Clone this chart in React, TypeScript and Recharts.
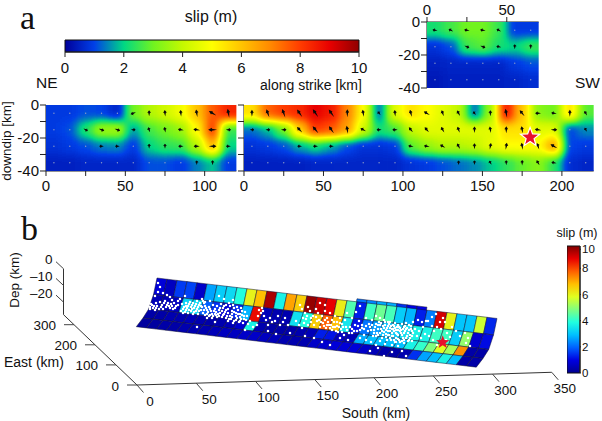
import React from 'react';
import { ScatterChart, Scatter, XAxis, YAxis, ReferenceArea, ReferenceLine } from 'recharts';

const FONT = '"Liberation Sans", Arial, sans-serif';
const AXIS = '#222';

// colour stops at slip = 0, 1, ... 10
const topColors = ['#00009a', '#0040e8', '#00d884', '#70f420', '#c4f800', '#ffff00', '#ffc400', '#ff8800', '#ff3c00', '#e80000', '#900000'];
const jetColors = ['#00008f', '#0000e0', '#0060ff', '#00c0ff', '#20ffe0', '#80ff80', '#e0ff20', '#ffc000', '#ff6000', '#e80000', '#800000'];

// slip (m) per 10 km cell, rows at 5, 15, 25, 35 km depth
const depths = [-5, -15, -25, -35];

const slipNE = [
  [0.9, 0.9, 1.1, 1.0, 0.6, 3.0, 3.8, 4.2, 4.8, 6.0, 7.6, 8.4],
  [0.9, 1.1, 2.3, 3.5, 3.6, 1.6, 2.6, 3.0, 3.5, 5.0, 8.0, 2.5],
  [0.8, 0.9, 1.1, 1.4, 1.5, 0.9, 2.0, 2.4, 2.5, 3.8, 6.2, 2.0],
  [0.5, 0.5, 0.6, 0.6, 0.6, 0.6, 1.1, 1.1, 0.9, 1.4, 1.9, 0.9],
];
const slipSW = [
  [5.5, 7.5, 8.0, 8.3, 9.0, 8.6, 7.0, 5.0, 1.3, 4.5, 5.5, 5.0, 4.5, 4.0, 1.3, 3.5, 8.5, 6.0, 3.3, 3.0, 5.5, 2.8],
  [1.3, 1.8, 3.0, 5.8, 8.0, 7.6, 6.5, 4.2, 2.2, 2.6, 4.0, 4.5, 4.5, 4.5, 4.5, 4.5, 5.5, 5.5, 4.5, 4.5, 1.0, 1.5],
  [0.8, 0.9, 1.1, 1.7, 2.1, 1.7, 1.1, 0.8, 0.8, 0.9, 2.8, 3.4, 3.8, 3.8, 4.0, 4.6, 5.0, 5.0, 5.0, 6.5, 1.0, 0.9],
  [0.5, 0.5, 0.5, 0.5, 0.6, 0.6, 0.6, 0.6, 0.6, 0.6, 0.8, 0.9, 1.1, 1.3, 1.5, 1.9, 2.4, 2.9, 3.3, 2.4, 0.7, 0.6],
];
const slipInset = [
  [2.2, 2.6, 3.0, 3.0, 2.5, 0.9, 0.9],
  [0.8, 1.1, 2.5, 2.8, 2.2, 2.0, 2.5],
  [0.5, 0.6, 0.6, 0.6, 0.6, 0.9, 1.1],
  [0.4, 0.5, 0.5, 0.5, 0.5, 0.6, 0.7],
];

// rake of each arrow, degrees anticlockwise from +x on the page
const rakeNE = [
  [90, 90, 80, 90, 90, 200, 90, 95, 95, 100, 150, 100],
  [0, 0, -30, -20, -20, 0, 110, 100, 170, 170, 180, 0],
  [180, 180, 180, 180, 180, 180, 90, 90, 180, 180, 0, 180],
  [90, 90, 90, 90, 90, 90, 90, 90, 90, 90, 90, 90],
];
const rakeSW = [
  [90, 110, 110, 125, 125, 125, 90, 100, 130, 95, 105, 150, 110, 120, 130, 90, 100, 130, 180, 170, 90, 120],
  [0, 0, 0, 135, 130, 125, 100, 150, 180, 180, 130, 130, 120, 110, 90, 100, 90, 100, 170, 0, 100, 120],
  [180, 180, 180, 180, 180, 180, 180, 180, 180, 180, 170, 170, 150, 120, 90, 80, 80, 100, 110, 150, 90, 90],
  [90, 90, 90, 90, 90, 90, 90, 90, 90, 90, 90, 90, 90, 90, 90, 120, 90, 90, 120, 170, 90, 90],
];
const rakeInset = [
  [170, 150, 170, 170, 150, 90, 90],
  [90, 100, -20, -20, 170, 90, 90],
  [90, 90, 90, 90, 90, 90, 90],
  [90, 90, 90, 90, 90, 90, 90],
];
const hypocentre = [{ x: 180, z: -19.6 }];

const neTicks = [0, 25, 50, 75, 100];
const swTicks = [0, 25, 50, 75, 100, 125, 150, 175, 200];
const insetTicks = [0, 25, 50];
const depthTicks = [0, -10, -20, -30, -40];

// 3D fault, 34 columns along strike and 4 rows downdip
const fault3d = [
  [0.9, 0.6, 1.6, 1.7, 0.7, 2.7, 3.2, 3.4, 4.0, 6.2, 7.0, 9.6, 3.8, 7.3, 6.8, 9.8, 9.3, 9.0, 6.3, 4.5, 1.3, 4.3, 4.8, 4.4, 3.2, 2.9, 1.3, 2.3, 9.2, 6.2, 3.1, 3.1, 5.8, 1.4],
  [0.5, 0.5, 0.6, 3.3, 3.4, 2.0, 1.5, 0.8, 1.4, 2.9, 8.9, 0.5, 0.4, 0.4, 3.5, 4.0, 6.8, 8.0, 7.0, 3.6, 1.2, 2.2, 2.6, 3.0, 3.2, 3.5, 3.8, 3.8, 4.3, 4.3, 3.2, 5.2, 0.8, 1.1],
  [0.3, 0.3, 0.4, 0.4, 0.5, 0.4, 0.3, 0.4, 0.5, 0.8, 3.8, 0.4, 0.3, 0.3, 0.3, 0.4, 0.5, 1.3, 1.2, 0.6, 0.5, 2.8, 3.0, 3.0, 3.0, 3.0, 3.8, 4.2, 5.0, 6.0, 5.4, 7.5, 0.3, 0.3],
  [0.2, 0.2, 0.3, 0.3, 0.4, 0.4, 0.4, 0.5, 0.6, 0.6, 0.7, 0.7, 0.6, 0.5, 0.4, 0.4, 0.4, 0.7, 0.8, 0.9, 0.9, 0.9, 0.7, 0.5, 0.3, 0.3, 0.4, 1.5, 2.7, 3.0, 3.8, 3.0, 0.3, 0.3],
];
const fault3dStrip = [2.2, 2.4, 2.8, 2.8, 1.5, 1.0, 1.0];
const southTicks = [0, 50, 100, 150, 200, 250, 300, 350];
const eastTicks = [0, 100, 200, 300];
const depTicks = [0, -10, -20];
// the printed 10 sits just inside the top of the bar
const slipBarTicks = [0, 2, 4, 6, 8, 9.45];
const slipBarTop = 9.7;
const topBarTicks = [0, 2, 4, 6, 8, 10];
const barEnds = [{ x: 0, y: 0 }, { x: 1, y: 1 }];

// aftershocks, page px
const aftershocks = [
  [158, 283], [160, 287], [158, 292], [155, 296], [163, 293], [167, 295], [170, 297], [172, 300], [152, 305], [150, 307],
  [153, 308], [156, 303], [157, 306], [160, 302], [162, 305], [165, 301], [168, 303], [171, 304], [174, 303], [176, 306],
  [150, 309], [155, 310], [159, 309], [163, 309], [166, 307], [170, 308], [173, 309], [178, 301], [180, 299], [185, 296],
  [182, 304], [184, 307], [186, 303], [188, 306], [190, 302], [192, 305], [194, 308], [196, 304], [198, 307], [200, 303],
  [181, 311], [183, 313], [186, 310], [188, 313], [191, 311], [193, 314], [196, 311], [198, 314], [201, 310], [203, 313],
  [205, 306], [207, 310], [209, 307], [211, 311], [213, 305], [215, 309], [217, 306], [219, 310], [221, 304], [223, 308],
  [205, 315], [207, 318], [210, 315], [212, 318], [215, 314], [217, 317], [220, 313], [222, 317], [225, 312], [227, 316],
  [226, 305], [228, 309], [230, 306], [232, 311], [234, 308], [236, 313], [238, 310], [240, 314], [242, 311], [244, 316],
  [229, 319], [232, 317], [234, 321], [237, 318], [239, 322], [241, 319], [243, 323], [246, 320], [248, 324], [250, 321],
  [197, 327], [215, 322], [245, 330], [219, 296], [224, 299], [233, 300], [210, 301], [202, 299], [253, 327], [257, 325],
  [262, 308], [261, 313], [258, 316], [264, 316], [263, 311], [259, 310],
  [268, 325], [270, 318], [275, 321], [280, 325], [285, 318], [272, 322], [266, 320], [283, 322], [278, 316], [288, 325],
  [276, 334], [268, 331], [290, 333], [296, 321], [299, 325], [302, 328], [304, 323], [306, 319], [308, 325], [311, 322],
  [300, 305], [302, 309], [305, 313], [308, 307], [310, 311], [313, 316], [316, 309], [318, 313], [320, 303], [325, 305],
  [322, 316], [325, 311], [327, 318], [330, 313], [332, 320], [335, 316], [337, 322], [340, 318], [342, 324], [345, 320],
  [314, 325], [317, 321], [320, 327], [323, 323], [326, 328], [329, 325], [332, 330], [335, 327], [338, 332], [341, 329],
  [344, 335], [347, 330], [350, 327], [352, 333], [355, 325], [357, 331], [359, 321], [362, 328], [364, 335], [366, 318],
  [340, 338], [348, 340], [305, 336], [314, 338], [322, 342], [330, 345], [356, 312], [360, 306], [352, 318], [347, 313],
  [369, 324], [371, 330], [373, 336], [375, 327], [377, 333], [379, 322], [381, 329], [383, 335], [385, 325], [387, 340],
  [372, 320], [376, 316], [380, 318], [384, 320], [388, 322], [390, 328], [392, 333], [394, 326], [396, 338], [398, 330],
  [389, 335], [391, 340], [393, 336], [395, 342], [397, 334], [399, 340], [401, 333], [403, 338], [405, 331], [407, 336],
  [386, 330], [388, 326], [390, 322], [393, 329], [395, 323], [398, 325], [400, 328], [402, 324], [404, 327], [406, 323],
  [385, 344], [380, 341], [376, 345], [371, 342], [366, 340], [360, 338], [392, 345], [398, 346], [404, 343], [409, 340],
  [409, 330], [411, 326], [413, 333], [415, 329], [417, 336], [419, 331], [421, 338], [423, 327], [425, 334], [412, 341],
  [413, 322], [418, 320], [422, 322], [426, 321], [370, 351], [384, 356], [392, 352], [402, 351], [406, 356], [378, 348],
  [432, 326], [434, 331], [437, 327], [440, 322], [443, 318], [445, 322], [441, 329], [447, 333], [450, 337], [446, 340],
  [429, 336], [433, 340], [437, 345], [468, 338], [466, 343], [470, 346], [465, 333], [452, 327], [456, 331], [460, 336],
  [428, 321], [436, 314], [432, 317],
  // thickest parts of the band
  [183, 309], [185, 312], [187, 308], [189, 310], [192, 309], [194, 312], [197, 309], [199, 311], [202, 307], [204, 310],
  [204, 303], [206, 308], [208, 312], [210, 309], [212, 314], [214, 311], [216, 312], [218, 314], [220, 308], [222, 311],
  [224, 314], [226, 310], [228, 313], [230, 316], [232, 314], [234, 312], [236, 316], [238, 314], [240, 317], [242, 315],
  [224, 306], [229, 303], [233, 305], [237, 307], [241, 308], [245, 312], [247, 316], [244, 319], [240, 321], [236, 320],
  [207, 314], [209, 316], [213, 316], [216, 315], [219, 316], [223, 315], [226, 318], [228, 321], [231, 319], [233, 323],
  [186, 306], [189, 304], [191, 307], [193, 303], [195, 306], [197, 301], [199, 305], [201, 306], [203, 301], [205, 302],
  [164, 303], [167, 305], [169, 306], [172, 306], [154, 306], [156, 308], [151, 304], [161, 307], [175, 308], [178, 305],
  [370, 327], [372, 325], [374, 330], [376, 324], [378, 329], [380, 325], [382, 331], [384, 328], [386, 334], [388, 331],
  [374, 333], [376, 336], [378, 335], [380, 333], [382, 338], [384, 332], [386, 337], [388, 335], [390, 338], [392, 336],
  [378, 325], [381, 323], [383, 326], [385, 322], [387, 328], [389, 324], [391, 326], [393, 325], [395, 328], [397, 327],
  [394, 331], [396, 333], [398, 335], [400, 331], [402, 335], [404, 333], [406, 329], [408, 333], [410, 335], [412, 331],
  [390, 331], [392, 329], [396, 330], [399, 327], [401, 330], [403, 329], [405, 326], [407, 328], [409, 325], [411, 329],
  [394, 340], [396, 342], [398, 339], [400, 342], [402, 341], [404, 340], [406, 338], [408, 341], [410, 338], [412, 336],
  [358, 326], [360, 330], [362, 325], [364, 329], [366, 326], [368, 331], [352, 329], [354, 331], [349, 333], [346, 327],
  [325, 320], [328, 322], [331, 325], [334, 322], [337, 326], [340, 323], [343, 327], [303, 318], [307, 316], [311, 318],
  [316, 317], [319, 320], [321, 322], [324, 326], [327, 325], [330, 328], [333, 327], [336, 331], [339, 327], [342, 332],
].map(([x, y]) => ({ x, y }));

type Stop = string;

function hexToRgb(hex: string) {
  return [1, 3, 5].map((i) => parseInt(hex.slice(i, i + 2), 16));
}

function colorAt(stops: Stop[], slip: number) {
  const t = Math.min(Math.max(slip, 0), 10);
  const i = Math.min(Math.floor(t), 9);
  const a = hexToRgb(stops[i]);
  const b = hexToRgb(stops[i + 1]);
  const rgb = a.map((v, k) => Math.round(v + (b[k] - v) * (t - i)));
  return `rgb(${rgb.join(',')})`;
}

function channelTable(k: number) {
  return topColors.map((c) => (hexToRgb(c)[k] / 255).toFixed(3)).join(' ');
}

function buildCells(slip: number[][], rake: number[][]) {
  return slip.flatMap((row, r) =>
    row.map((s, c) => ({ x: c * 10 + 5, z: depths[r], slip: s, rake: rake[r][c] }))
  );
}

function starPoints(cx: number, cy: number, outer: number) {
  const pts: string[] = [];
  for (let i = 0; i < 10; i++) {
    const rad = i % 2 === 0 ? outer : outer * 0.42;
    const a = (Math.PI / 5) * i - Math.PI / 2;
    pts.push(`${cx + rad * Math.cos(a)},${cy + rad * Math.sin(a)}`);
  }
  return pts.join(' ');
}

function Arrow(props: any) {
  const { cx, cy, payload } = props;
  if (payload.slip < 1.3) {
    return <circle cx={cx} cy={cy} r={0.7} fill="#8a9ac8" />;
  }
  const len = 3 + payload.slip * 0.55;
  return (
    <g transform={`translate(${cx},${cy}) rotate(${-payload.rake})`}>
      <path
        d={`M${-len * 0.6},0 L${len * 0.1},-0.9 L${len * 0.1},-1.9 L${len * 0.6},0 L${len * 0.1},1.9 L${len * 0.1},0.9 Z`}
        fill="#0a0a0a"
      />
    </g>
  );
}

interface SlipPanelProps {
  id: string;
  plotLeft: number;
  plotTop: number;
  plotWidth: number;
  plotHeight: number;
  xMax: number;
  slip: number[][];
  rake: number[][];
  xTicks: number[];
  xMajor: number;
  showDepthLabels?: boolean;
  topAxis?: boolean;
  star?: boolean;
}

function SlipPanel({ id, plotLeft, plotTop, plotWidth, plotHeight, xMax, slip, rake, xTicks, xMajor, showDepthLabels, topAxis, star }: SlipPanelProps) {
  const cells = buildCells(slip, rake);
  const marginLeft = 40;
  const marginTop = topAxis ? 22 : 10;
  const axisRoom = 30;
  const cellW = (plotWidth / xMax) * 10;
  const cellH = plotHeight / 4;
  const tickFont = { fontFamily: FONT, fontSize: 15, fill: '#111' };

  const HeatCell = (props: any) => {
    const { cx, cy, payload } = props;
    const pad = 30;
    const x0 = payload.x < 10 ? cx - cellW / 2 - pad : cx - cellW / 2;
    const x1 = payload.x > xMax - 10 ? cx + cellW / 2 + pad : cx + cellW / 2 + 0.5;
    const y0 = payload.z === depths[0] ? cy - cellH / 2 - pad : cy - cellH / 2;
    const y1 = payload.z === depths[3] ? cy + cellH / 2 + pad : cy + cellH / 2 + 0.5;
    const g = Math.round((payload.slip / 10) * 255);
    return <rect x={x0} y={y0} width={x1 - x0} height={y1 - y0} fill={`rgb(${g},${g},${g})`} />;
  };

  return (
    <div style={{ position: 'absolute', left: plotLeft - marginLeft, top: plotTop - marginTop }}>
      <style>{`.heat-${id}{filter:url(#slipField);clip-path:url(#clip-${id});}`}</style>
      <ScatterChart
        width={marginLeft + plotWidth + 6}
        height={marginTop + plotHeight + (topAxis ? 10 : axisRoom)}
        margin={{ top: topAxis ? 0 : marginTop, right: 6, bottom: topAxis ? 10 : 0, left: 0 }}
      >
        <defs>
          <clipPath id={`clip-${id}`}>
            <rect x={marginLeft} y={marginTop} width={plotWidth} height={plotHeight} />
          </clipPath>
        </defs>
        <XAxis
          type="number"
          dataKey="x"
          orientation={topAxis ? 'top' : 'bottom'}
          domain={[0, xMax]}
          ticks={xTicks}
          interval={0}
          allowDataOverflow
          height={topAxis ? marginTop : axisRoom}
          tickSize={5}
          tickMargin={topAxis ? 2 : 4}
          tick={tickFont}
          stroke={AXIS}
          tickFormatter={(v: number) => (v % xMajor === 0 ? String(v) : '')}
        />
        <YAxis
          type="number"
          dataKey="z"
          domain={[-40, 0]}
          ticks={depthTicks}
          interval={0}
          allowDataOverflow
          width={marginLeft}
          tickSize={6}
          tickMargin={1}
          tick={tickFont}
          stroke={AXIS}
          tickFormatter={(v: number) => (showDepthLabels && v % 20 === 0 ? String(v) : '')}
        />
        <Scatter data={cells} className={`heat-${id}`} shape={HeatCell} isAnimationActive={false} />
        <Scatter data={cells} shape={Arrow} isAnimationActive={false} />
        {star && (
          <Scatter
            data={hypocentre}
            isAnimationActive={false}
            shape={(p: any) => (
              <polygon points={starPoints(p.cx, p.cy, 10)} fill="#e8102c" stroke="#fff" strokeWidth={1.2} />
            )}
          />
        )}
      </ScatterChart>
    </div>
  );
}

function TopColorBar() {
  const ends = barEnds.map((d) => ({ x: d.x * 10, y: d.y }));
  return (
    <div style={{ position: 'absolute', left: 50, top: 39 }}>
      <ScatterChart width={324} height={46} margin={{ top: 1, right: 15, bottom: 0, left: 15 }}>
        <XAxis
          type="number"
          dataKey="x"
          domain={[0, 10]}
          ticks={topBarTicks}
          interval={0}
          height={33}
          tickSize={5}
          tickMargin={5}
          tick={{ fontFamily: FONT, fontSize: 15, fill: '#111' }}
          stroke={AXIS}
        />
        <YAxis type="number" dataKey="y" domain={[0, 1]} hide />
        <Scatter data={ends} shape={() => <g />} isAnimationActive={false} />
        <ReferenceArea x1={0} x2={10} y1={0} y2={1} fill="url(#topRamp)" fillOpacity={1} stroke="#111" strokeOpacity={1} />
      </ScatterChart>
    </div>
  );
}

function SideColorBar() {
  const ends = barEnds.map((d) => ({ x: d.x, y: d.y * slipBarTop }));
  return (
    <div style={{ position: 'absolute', left: 567, top: 238 }}>
      <ScatterChart width={35} height={143} margin={{ top: 8, right: 0, bottom: 8, left: 0 }}>
        <XAxis type="number" dataKey="x" domain={[0, 1]} hide />
        <YAxis
          type="number"
          dataKey="y"
          orientation="right"
          domain={[0, slipBarTop]}
          ticks={slipBarTicks}
          interval={0}
          width={22}
          tickSize={1}
          tickMargin={1}
          tick={{ fontFamily: FONT, fontSize: 11.5, fill: '#111' }}
          stroke={AXIS}
          tickFormatter={(v: number) => String(Math.round(v / 2) * 2)}
        />
        <Scatter data={ends} shape={() => <g />} isAnimationActive={false} />
        <ReferenceArea x1={0} x2={1} y1={0} y2={slipBarTop} fill="url(#jetRamp)" fillOpacity={1} stroke="#111" strokeOpacity={1} />
      </ScatterChart>
    </div>
  );
}

// --- panel b, page px used as the plot's units ---

function project(south: number, east: number, dep: number) {
  return {
    x: 137 + 1.185 * south - 0.21 * east,
    y: 385 - 0.0363 * south - 0.201 * east - 1.67 * (dep + 27.5),
  };
}

const rowOffsets = [
  [0, 0],
  [-3.5, 16.5],
  [-8.3, 31],
  [-14, 40],
  [-20.7, 48.7],
];

function faultCorner(col: number, row: number, lift = 0) {
  return [157 + col * 10 + rowOffsets[row][0], 278 + col * 1.19 + rowOffsets[row][1] - lift];
}

function patchCorners(col: number, row: number, lift = 0) {
  return [faultCorner(col, row, lift), faultCorner(col + 1, row, lift), faultCorner(col + 1, row + 1, lift), faultCorner(col, row + 1, lift)];
}

function buildPatches() {
  const strip = fault3dStrip.map((slip, c) => {
    const corners = patchCorners(20 + c, 0, 3);
    return { x: corners[0][0], y: corners[0][1], slip, corners };
  });
  const rows = fault3d.flatMap((row, r) =>
    row.map((slip, c) => {
      const corners = patchCorners(c, r);
      return { x: corners[0][0], y: corners[0][1], slip, corners };
    })
  );
  return [...strip, ...rows];
}

const Patch = (props: any) => {
  const { cx, cy, payload } = props;
  const dx = cx - payload.x;
  const dy = cy - payload.y;
  const pts = payload.corners.map((c: number[]) => `${c[0] + dx},${c[1] + dy}`).join(' ');
  return <polygon points={pts} fill={colorAt(jetColors, payload.slip)} stroke="#101030" strokeWidth={0.5} />;
};

function Tick3d(props: any) {
  const { cx, cy, payload } = props;
  return (
    <g>
      <line x1={cx} y1={cy} x2={cx + payload.tx} y2={cy + payload.ty} stroke="#444" strokeWidth={1} />
      <text
        x={cx + payload.lx}
        y={cy + payload.ly}
        textAnchor={payload.anchor}
        dominantBaseline="central"
        fontFamily={FONT}
        fontSize={13.5}
        fill="#111"
      >
        {payload.label}
      </text>
    </g>
  );
}

function Fault3D() {
  const patches = buildPatches();
  const south = southTicks.map((s) => ({ ...project(s, 0, -27.5), tx: 6.5, ty: 7.5, lx: 13, ly: 16, anchor: 'middle', label: String(s) }));
  const east = eastTicks.map((e) => ({ ...project(0, e, -27.5), tx: -10, ty: 0, lx: -18, ly: 1, anchor: 'end', label: String(e) }));
  const dep = depTicks.map((d) => ({ ...project(0, 350, d), tx: -7.5, ty: -7, lx: -11, ly: -9, anchor: 'end', label: d === 0 ? '0' : `\u2013${-d}` }));
  const origin = project(0, 0, -27.5);
  const southEnd = project(350, 0, -27.5);
  const eastEnd = project(0, 350, -27.5);
  const depTop = project(0, 350, 0);
  const hypo = [{ x: 442.7, y: 342.3 }];

  return (
    <div style={{ position: 'absolute', left: 0, top: 0 }}>
      <ScatterChart width={602} height={421} margin={{ top: 0, right: 0, bottom: 0, left: 0 }}>
        <XAxis type="number" dataKey="x" domain={[0, 602]} hide />
        <YAxis type="number" dataKey="y" domain={[0, 421]} reversed hide />
        <ReferenceLine segment={[origin, southEnd]} stroke="#333" strokeWidth={1} />
        <ReferenceLine segment={[origin, eastEnd]} stroke="#333" strokeWidth={1} />
        <ReferenceLine segment={[eastEnd, depTop]} stroke="#333" strokeWidth={1} />
        <Scatter data={south} shape={Tick3d} isAnimationActive={false} />
        <Scatter data={east} shape={Tick3d} isAnimationActive={false} />
        <Scatter data={dep} shape={Tick3d} isAnimationActive={false} />
        <Scatter data={patches} shape={Patch} isAnimationActive={false} />
        <Scatter
          data={aftershocks}
          isAnimationActive={false}
          shape={(p: any) => <rect x={p.cx - 1.1} y={p.cy - 1.1} width={2.2} height={2.2} fill="#fff" />}
        />
        <Scatter
          data={hypo}
          isAnimationActive={false}
          shape={(p: any) => <polygon points={starPoints(p.cx, p.cy, 7)} fill="#e8102c" />}
        />
      </ScatterChart>
    </div>
  );
}

function Label({ x, y, size = 15, anchor = 'left', rotate, serif, children }: any) {
  const shift = anchor === 'center' ? '-50%' : '0';
  return (
    <span
      style={{
        position: 'absolute',
        left: x,
        top: y,
        transform: `translate(${shift},-50%)${rotate ? ` rotate(${rotate}deg)` : ''}`,
        fontFamily: serif ? '"Liberation Serif", serif' : FONT,
        fontSize: size,
        lineHeight: 1,
        color: '#111',
        whiteSpace: 'nowrap',
      }}
    >
      {children}
    </span>
  );
}

function Ramps() {
  const ramp = (id: string, stops: string[], vertical: boolean) => (
    <linearGradient id={id} x1="0" y1={vertical ? '1' : '0'} x2={vertical ? '0' : '1'} y2="0">
      {stops.map((c, i) => (
        <stop key={i} offset={`${i * 10}%`} stopColor={c} />
      ))}
    </linearGradient>
  );
  return (
    <svg width={0} height={0} style={{ position: 'absolute' }}>
      <defs>
        {ramp('topRamp', topColors, false)}
        {ramp('jetRamp', jetColors, true)}
        <filter id="slipField" filterUnits="userSpaceOnUse" x="-100" y="-100" width="900" height="500" colorInterpolationFilters="sRGB">
          <feGaussianBlur stdDeviation="5" />
          <feComponentTransfer>
            <feFuncR type="table" tableValues={channelTable(0)} />
            <feFuncG type="table" tableValues={channelTable(1)} />
            <feFuncB type="table" tableValues={channelTable(2)} />
          </feComponentTransfer>
        </filter>
      </defs>
    </svg>
  );
}

export default function App() {
  return (
    <div style={{ position: 'absolute', left: 0, top: 0, width: 602, height: 421, background: '#fff', overflow: 'hidden' }}>
      <Ramps />
      <Fault3D />
      <TopColorBar />
      <SlipPanel id="ne" plotLeft={46.3} plotTop={105.3} plotWidth={190.4} plotHeight={66} xMax={120} slip={slipNE} rake={rakeNE} xTicks={neTicks} xMajor={50} showDepthLabels />
      <SlipPanel id="sw" plotLeft={244.3} plotTop={105.3} plotWidth={349.7} plotHeight={66} xMax={220} slip={slipSW} rake={rakeSW} xTicks={swTicks} xMajor={50} star />
      <SlipPanel id="inset" plotLeft={427.3} plotTop={22} plotWidth={111.7} plotHeight={66} xMax={70} slip={slipInset} rake={rakeInset} xTicks={insetTicks} xMajor={50} showDepthLabels topAxis />
      <SideColorBar />
      <Label x={20} y={18} size={34} serif>a</Label>
      <Label x={21} y={229} size={34} serif>b</Label>
      <Label x={211} y={17} size={16} anchor="center">slip (m)</Label>
      <Label x={36} y={83} size={15.5}>NE</Label>
      <Label x={575} y={83} size={15.5}>SW</Label>
      <Label x={260} y={85} size={14}>along strike [km]</Label>
      <Label x={7} y={141} size={13.5} anchor="center" rotate={-90}>downdip [km]</Label>
      <Label x={15} y={280} size={13.5} anchor="center" rotate={-90}>Dep (km)</Label>
      <Label x={4} y={362} size={14}>East (km)</Label>
      <Label x={376} y={413} size={14} anchor="center">South (km)</Label>
      <Label x={577} y={233} size={12.5} anchor="center">slip (m)</Label>
    </div>
  );
}
